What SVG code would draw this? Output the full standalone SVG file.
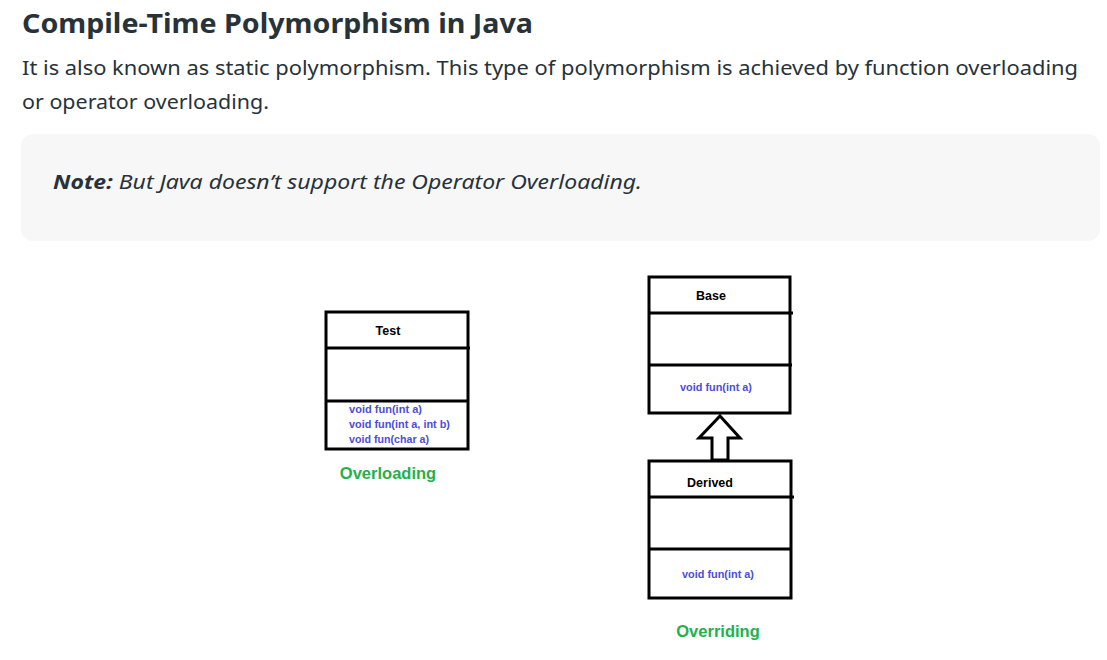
<svg xmlns="http://www.w3.org/2000/svg" width="1107" height="660" viewBox="0 0 1107 660">
<style>
.page{font-family:"Noto Sans","Open Sans",Lato,sans-serif;fill:#273239}
.box{fill:#fff;stroke:#000;stroke-width:3}
.div{stroke:#000;stroke-width:3;fill:none}
.hd{font-family:"Liberation Sans",Arial,sans-serif;font-weight:bold;font-size:12.5px;fill:#000;text-anchor:middle}
.m{font-family:"Liberation Sans",Arial,sans-serif;font-weight:bold;font-size:10.5px;fill:#4d4dd6}
.lbl{font-family:"Liberation Sans",Arial,sans-serif;font-weight:bold;font-size:16.5px;fill:#22b14c;text-anchor:middle}
</style>
<rect width="1107" height="660" fill="#fff"/>
<text class="page" x="22" y="33" font-size="27" font-weight="bold" textLength="511" lengthAdjust="spacingAndGlyphs">Compile-Time Polymorphism in Java</text>
<text class="page" x="22" y="75" font-size="20" textLength="1056" lengthAdjust="spacingAndGlyphs">It is also known as static polymorphism. This type of polymorphism is achieved by function overloading</text>
<text class="page" x="22" y="109" font-size="20" textLength="247" lengthAdjust="spacingAndGlyphs">or operator overloading.</text>
<rect x="21" y="134" width="1079" height="107" rx="12" fill="#f7f7f7"/>
<text class="page" x="53" y="189" font-size="20" font-style="italic" textLength="589" lengthAdjust="spacingAndGlyphs"><tspan font-weight="bold">Note:</tspan> But Java doesn’t support the Operator Overloading.</text>

<g id="test">
<rect class="box" x="326" y="312" width="142" height="137"/>
<line class="div" x1="326" y1="348" x2="470" y2="348"/>
<line class="div" x1="326" y1="401" x2="468" y2="401"/>
<text class="hd" x="388" y="335">Test</text>
<text class="m" x="349" y="413" textLength="73" lengthAdjust="spacingAndGlyphs">void fun(int a)</text>
<text class="m" x="349" y="428" textLength="101" lengthAdjust="spacingAndGlyphs">void fun(int a, int b)</text>
<text class="m" x="349" y="443" textLength="80" lengthAdjust="spacingAndGlyphs">void fun(char a)</text>
<text class="lbl" x="388" y="479">Overloading</text>
</g>

<g id="base">
<rect class="box" x="649" y="277" width="141" height="136"/>
<line class="div" x1="649" y1="313" x2="793" y2="313"/>
<line class="div" x1="649" y1="365" x2="792" y2="365"/>
<text class="hd" x="711" y="300">Base</text>
<text class="m" x="716" y="391" text-anchor="middle" textLength="72" lengthAdjust="spacingAndGlyphs">void fun(int a)</text>
</g>

<g id="derived">
<rect class="box" x="649" y="461" width="142" height="137"/>
<line class="div" x1="649" y1="497" x2="794" y2="497"/>
<line class="div" x1="649" y1="549" x2="792" y2="549"/>
<text class="hd" x="710" y="487">Derived</text>
<text class="m" x="718" y="578" text-anchor="middle" textLength="72" lengthAdjust="spacingAndGlyphs">void fun(int a)</text>
<text class="lbl" x="718" y="637">Overriding</text>
</g>

<g id="connectors">
<path d="M720 416 L740 438 L728 438 L728 460 L712 460 L712 438 L699 438 Z" fill="#fff" stroke="#000" stroke-width="3" stroke-linejoin="miter"/>
</g>
</svg>
